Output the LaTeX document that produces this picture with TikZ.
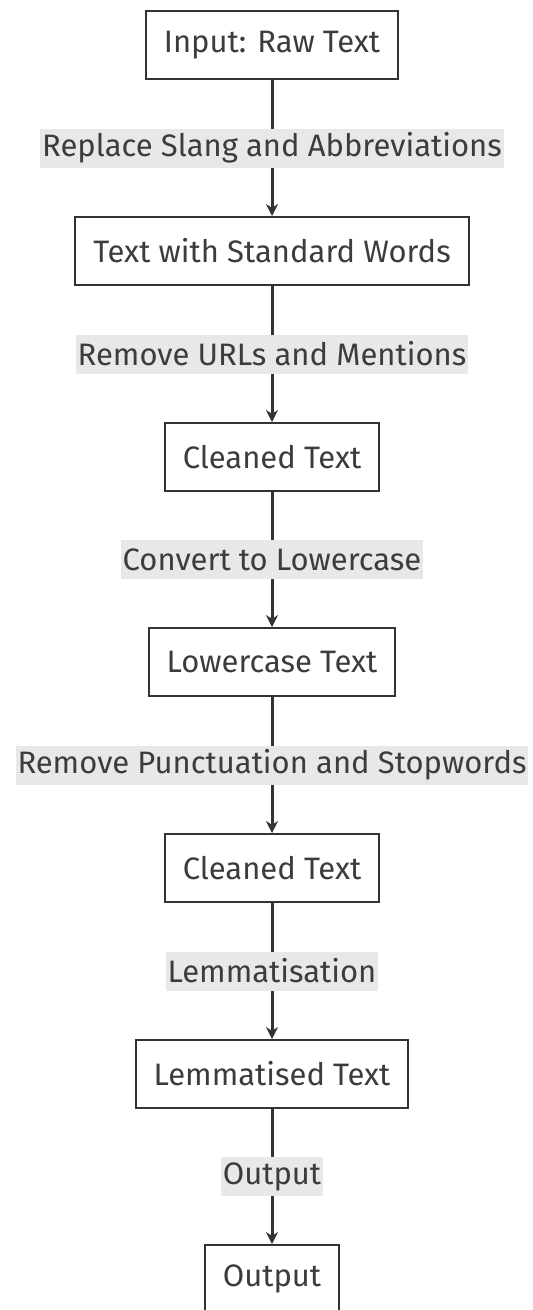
\documentclass[tikz,border=0pt]{standalone}
\usepackage{fontspec}
\setmainfont{Fira Sans}
\usetikzlibrary{arrows.meta}
\definecolor{box_edge}{RGB}{51,51,51}
\definecolor{box_text}{RGB}{60,60,60}
\definecolor{label_bg}{RGB}{232,232,232}

\begin{document}
\begin{tikzpicture}[->,>={Stealth[length=12pt,width=12pt]},x=1pt,y=-1pt]
    \tikzstyle{stage}=[draw=box_edge, line width=2pt, rectangle, fill=white, text=box_text,
                       minimum height=68pt, inner xsep=18pt, font=\fontsize{31}{35}\selectfont]
    \tikzstyle{action}=[fill=label_bg, text=box_text, inner xsep=2pt, inner ysep=0pt,
                        minimum height=39pt, font=\fontsize{31}{35}\selectfont]
    \tikzstyle{flow}=[draw=box_edge, line width=3pt]

    \clip (0,0) rectangle (533,1310);

    \node[stage] (A) at (272,  45) {Input: Raw Text};
    \node[stage] (B) at (272, 251) {Text with Standard Words};
    \node[stage] (C) at (272, 457) {Cleaned Text};
    \node[stage] (D) at (272, 662) {Lowercase Text};
    \node[stage] (E) at (272, 868) {Cleaned Text};
    \node[stage] (F) at (272,1074) {Lemmatised Text};
    \node[stage] (G) at (272,1279) {Output};

    \path
     (A) edge[flow] node[action] {Replace Slang and Abbreviations} (B)
     (B) edge[flow] node[action] {Remove URLs and Mentions} (C)
     (C) edge[flow] node[action] {Convert to Lowercase} (D)
     (D) edge[flow] node[action] {Remove Punctuation and Stopwords} (E)
     (E) edge[flow] node[action] {Lemmatisation} (F)
     (F) edge[flow] node[action] {Output} (G);
\end{tikzpicture}
\end{document}
